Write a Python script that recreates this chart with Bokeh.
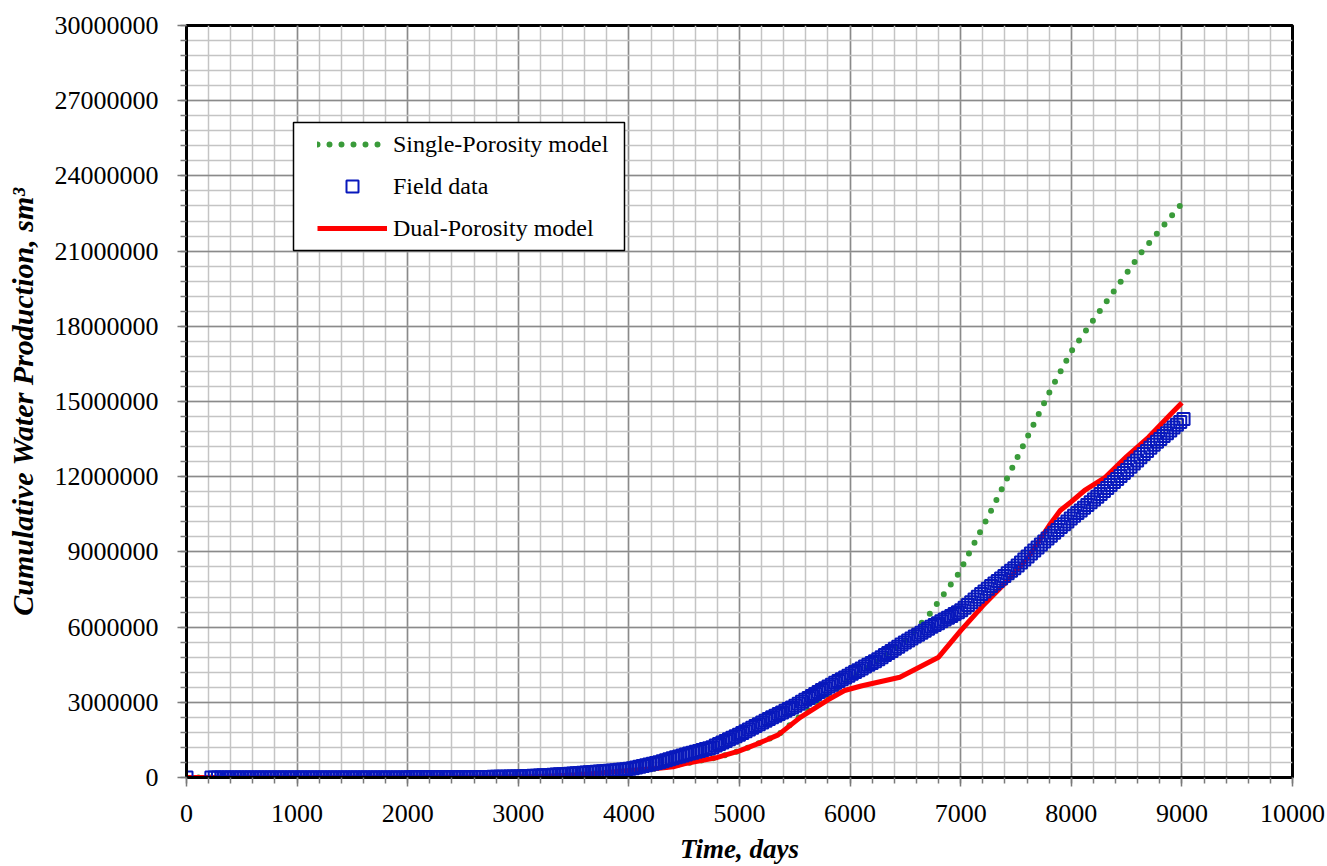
from bokeh.plotting import figure
from bokeh.models import (SingleIntervalTicker, NumeralTickFormatter, Legend,
                          LegendItem, BoxAnnotation, Range1d, ColumnDataSource)
from bokeh.embed import file_html
from bokeh.resources import INLINE

# ---------------- data (days, million sm3) ----------------
field_days = [
    0,
    225, 255, 285, 315, 345, 375, 405, 435, 465, 495,
    525, 555, 585, 615, 645, 675, 705, 735, 765, 795,
    825, 855, 885, 915, 945, 975, 1005, 1035, 1065, 1095,
    1125, 1155, 1185, 1215, 1245, 1275, 1305, 1335, 1365, 1395,
    1425, 1455, 1485, 1515, 1545, 1575, 1605, 1635, 1665, 1695,
    1725, 1755, 1785, 1815, 1845, 1875, 1905, 1935, 1965, 1995,
    2025, 2055, 2085, 2115, 2145, 2175, 2205, 2235, 2265, 2295,
    2325, 2355, 2385, 2415, 2445, 2475, 2505, 2535, 2565, 2595,
    2625, 2655, 2685, 2715, 2745, 2775, 2805, 2835, 2865, 2895,
    2925, 2955, 2985, 3015, 3045, 3075, 3105, 3135, 3165, 3195,
    3225, 3255, 3285, 3315, 3345, 3375, 3405, 3435, 3465, 3495,
    3525, 3555, 3585, 3615, 3645, 3675, 3705, 3735, 3765, 3795,
    3825, 3855, 3885, 3915, 3945, 3975, 4005, 4035, 4065, 4095,
    4125, 4155, 4185, 4215, 4245, 4275, 4305, 4335, 4365, 4395,
    4425, 4455, 4485, 4515, 4545, 4575, 4605, 4635, 4665, 4695,
    4725, 4755, 4785, 4815, 4845, 4875, 4905, 4935, 4965, 4995,
    5025, 5055, 5085, 5115, 5145, 5175, 5205, 5235, 5265, 5295,
    5325, 5355, 5385, 5415, 5445, 5475, 5505, 5535, 5565, 5595,
    5625, 5655, 5685, 5715, 5745, 5775, 5805, 5835, 5865, 5895,
    5925, 5955, 5985, 6015, 6045, 6075, 6105, 6135, 6165, 6195,
    6225, 6255, 6285, 6315, 6345, 6375, 6405, 6435, 6465, 6495,
    6525, 6555, 6585, 6615, 6645, 6675, 6705, 6735, 6765, 6795,
    6825, 6855, 6885, 6915, 6945, 6975, 7005, 7035, 7065, 7095,
    7125, 7155, 7185, 7215, 7245, 7275, 7305, 7335, 7365, 7395,
    7425, 7455, 7485, 7515, 7545, 7575, 7605, 7635, 7665, 7695,
    7725, 7755, 7785, 7815, 7845, 7875, 7905, 7935, 7965, 7995,
    8025, 8055, 8085, 8115, 8145, 8175, 8205, 8235, 8265, 8295,
    8325, 8355, 8385, 8415, 8445, 8475, 8505, 8535, 8565, 8595,
    8625, 8655, 8685, 8715, 8745, 8775, 8805, 8835, 8865, 8895,
    8925, 8955, 8985, 9015,
]
field_mm3 = [
    0.0,
    0, 0, 0, 0, 0, 0, 0, 0, 0, 0,
    0, 0, 0, 0, 0, 0, 0, 0, 0, 0,
    0, 0, 0, 0, 0, 0, 0, 0, 0, 0,
    0, 0, 0, 0, 0, 0, 0, 0, 0, 0,
    0, 0, 0, 0, 0, 0, 0, 0, 0, 0,
    0, 0, 0, 0, 0, 0, 0, 0, 0, 0,
    0.005, 0.005, 0.005, 0.005, 0.005, 0.005, 0.005, 0.005, 0.005, 0.005,
    0.005, 0.005, 0.005, 0.005, 0.005, 0.005, 0.005, 0.010, 0.012, 0.014,
    0.016, 0.018, 0.020, 0.022, 0.024, 0.026, 0.028, 0.030, 0.032, 0.034,
    0.036, 0.038, 0.040, 0.043, 0.049, 0.055, 0.061, 0.067, 0.073, 0.079,
    0.085, 0.091, 0.100, 0.108, 0.117, 0.125, 0.133, 0.142, 0.150, 0.159,
    0.168, 0.178, 0.187, 0.197, 0.206, 0.216, 0.226, 0.235, 0.246, 0.258,
    0.270, 0.282, 0.294, 0.306, 0.318, 0.330, 0.345, 0.374, 0.402, 0.431,
    0.460, 0.489, 0.518, 0.546, 0.575, 0.612, 0.650, 0.689, 0.727, 0.766,
    0.804, 0.842, 0.881, 0.918, 0.954, 0.990, 1.026, 1.062, 1.098, 1.134,
    1.170, 1.210, 1.273, 1.335, 1.398, 1.460, 1.522, 1.585, 1.647, 1.710,
    1.778, 1.848, 1.917, 1.987, 2.056, 2.126, 2.196, 2.265, 2.333, 2.399,
    2.465, 2.531, 2.597, 2.663, 2.729, 2.795, 2.863, 2.941, 3.019, 3.097,
    3.175, 3.253, 3.331, 3.409, 3.487, 3.560, 3.632, 3.704, 3.776, 3.848,
    3.920, 3.992, 4.064, 4.136, 4.208, 4.280, 4.352, 4.424, 4.496, 4.568,
    4.640, 4.714, 4.798, 4.882, 4.966, 5.050, 5.134, 5.218, 5.302, 5.386,
    5.465, 5.543, 5.621, 5.699, 5.777, 5.855, 5.933, 6.011, 6.086, 6.158,
    6.230, 6.302, 6.374, 6.446, 6.518, 6.590, 6.668, 6.776, 6.884, 6.992,
    7.100, 7.208, 7.316, 7.424, 7.532, 7.635, 7.737, 7.839, 7.941, 8.043,
    8.145, 8.247, 8.349, 8.460, 8.580, 8.700, 8.820, 8.940, 9.060, 9.180,
    9.300, 9.419, 9.533, 9.647, 9.761, 9.875, 9.989, 10.103, 10.217, 10.331,
    10.440, 10.548, 10.656, 10.764, 10.872, 10.980, 11.088, 11.196, 11.310, 11.430,
    11.550, 11.670, 11.790, 11.910, 12.030, 12.150, 12.271, 12.397, 12.523, 12.649,
    12.775, 12.901, 13.027, 13.153, 13.279, 13.394, 13.507, 13.619, 13.733, 13.846,
    13.960, 14.073, 14.186, 14.300,
]

dual_days = [0, 500, 1000, 1500, 2000, 2500, 3000, 3250, 3500, 3750, 4000,
             4250, 4400, 4500, 4800, 5000, 5150, 5350, 5550, 5800, 5950, 6100,
             6450, 6800, 7000, 7200, 7400, 7600, 7800, 7900, 8000, 8120, 8300,
             8500, 8700, 8900, 9000]
dual_mm3 = [0, 0, 0, 0, 0, 0.005, 0.02, 0.05, 0.10, 0.18, 0.28,
            0.36, 0.43, 0.55, 0.80, 1.06, 1.32, 1.70, 2.40, 3.10, 3.47, 3.65,
            4.00, 4.80, 5.86, 6.85, 7.75, 8.72, 10.05, 10.65, 11.00, 11.45, 11.95,
            12.80, 13.58, 14.50, 14.95]

single_days = [0, 1000, 2000, 2500, 3000, 3250, 3500, 3750, 4000, 4250, 4500,
               4800, 5000, 5150, 5350, 5550, 5800, 6000, 6250, 6500, 6720, 6980,
               7290, 7800, 8000, 8320, 8640, 9000]
single_mm3 = [0, 0, 0, 0.005, 0.02, 0.05, 0.10, 0.18, 0.28, 0.36, 0.55,
              0.80, 1.06, 1.32, 1.70, 2.45, 3.25, 3.95, 4.65, 5.45, 6.53, 8.13,
              10.77, 15.35, 17.00, 19.00, 20.98, 22.90]

legend_labels = ["Single-Porosity model", "Field data", "Dual-Porosity model"]

MM = 1e6
field_src = ColumnDataSource(dict(x=field_days, y=[v * MM for v in field_mm3]))
dual_src = ColumnDataSource(dict(x=dual_days, y=[v * MM for v in dual_mm3]))
single_src = ColumnDataSource(dict(x=single_days, y=[v * MM for v in single_mm3]))

SERIF = "Liberation Serif"

p = figure(width=1325, height=866, output_backend="svg", toolbar_location=None,
           x_range=Range1d(0, 10000), y_range=Range1d(0, 30000000),
           min_border_left=186, min_border_right=33, min_border_top=25,
           min_border_bottom=89, background_fill_color="white",
           border_fill_color="white")

p.outline_line_color = "black"
p.outline_line_width = 3

xt = SingleIntervalTicker(interval=1000, num_minor_ticks=5)
yt = SingleIntervalTicker(interval=3000000, num_minor_ticks=5)
p.xaxis.ticker = xt
p.yaxis.ticker = yt
p.xgrid.ticker = xt
p.ygrid.ticker = yt
p.yaxis.formatter = NumeralTickFormatter(format="0")

for g in (p.xgrid, p.ygrid):
    g.grid_line_color = "#8A8A8A"
    g.grid_line_width = 1.5
    g.minor_grid_line_color = "#C4C4C4"
    g.minor_grid_line_width = 1.5

for ax in (p.xaxis, p.yaxis):
    ax.axis_line_color = "black"
    ax.axis_line_width = 3
    ax.major_tick_line_color = "#7A7A7A"
    ax.major_tick_line_width = 1.5
    ax.minor_tick_line_color = "#7A7A7A"
    ax.minor_tick_line_width = 1.5
    ax.major_tick_in = 0
    ax.major_tick_out = 9
    ax.minor_tick_in = 0
    ax.minor_tick_out = 6
    ax.major_label_text_font = SERIF
    ax.major_label_text_font_size = "26px"
    ax.major_label_text_color = "black"
    ax.axis_label_text_font = SERIF
    ax.axis_label_text_font_style = "bold italic"
    ax.axis_label_text_color = "black"

p.xaxis.major_label_standoff = 18
p.yaxis.major_label_standoff = 19
p.xaxis.axis_label = "Time, days"
p.xaxis.axis_label_text_font_size = "27px"
p.xaxis.axis_label_standoff = 9
p.yaxis.axis_label = "Cumulative Water Production, sm³"
p.yaxis.axis_label_text_font_size = "30px"
p.yaxis.axis_label_standoff = 13

g_single = p.line("x", "y", source=single_src, line_color="#3A9B3A", line_width=6,
                  line_dash="0 12", line_cap="round")
g_dual = p.line("x", "y", source=dual_src, line_color="#FF0000", line_width=5,
                line_join="round")
g_field = p.scatter("x", "y", source=field_src, marker="square", size=12,
                    line_color="#0818BC", line_width=2, fill_color=None)

box = BoxAnnotation(left=107, right=438, bottom=527, top=655,
                    left_units="screen", right_units="screen",
                    top_units="screen", bottom_units="screen",
                    fill_color="white", fill_alpha=1.0,
                    line_color="black", line_width=1.5, line_alpha=1.0)
p.add_layout(box)

legend = Legend(items=[
    LegendItem(label=legend_labels[0], renderers=[g_single]),
    LegendItem(label=legend_labels[1], renderers=[g_field]),
    LegendItem(label=legend_labels[2], renderers=[g_dual]),
], location=(131, 534), padding=0, margin=0, spacing=12,
    glyph_width=70, glyph_height=30, label_height=30, label_standoff=6,
    border_line_alpha=0, background_fill_alpha=0,
    label_text_font=SERIF, label_text_font_size="24px",
    label_text_color="black")
p.add_layout(legend)

open("out.html", "w").write(file_html(p, INLINE))
